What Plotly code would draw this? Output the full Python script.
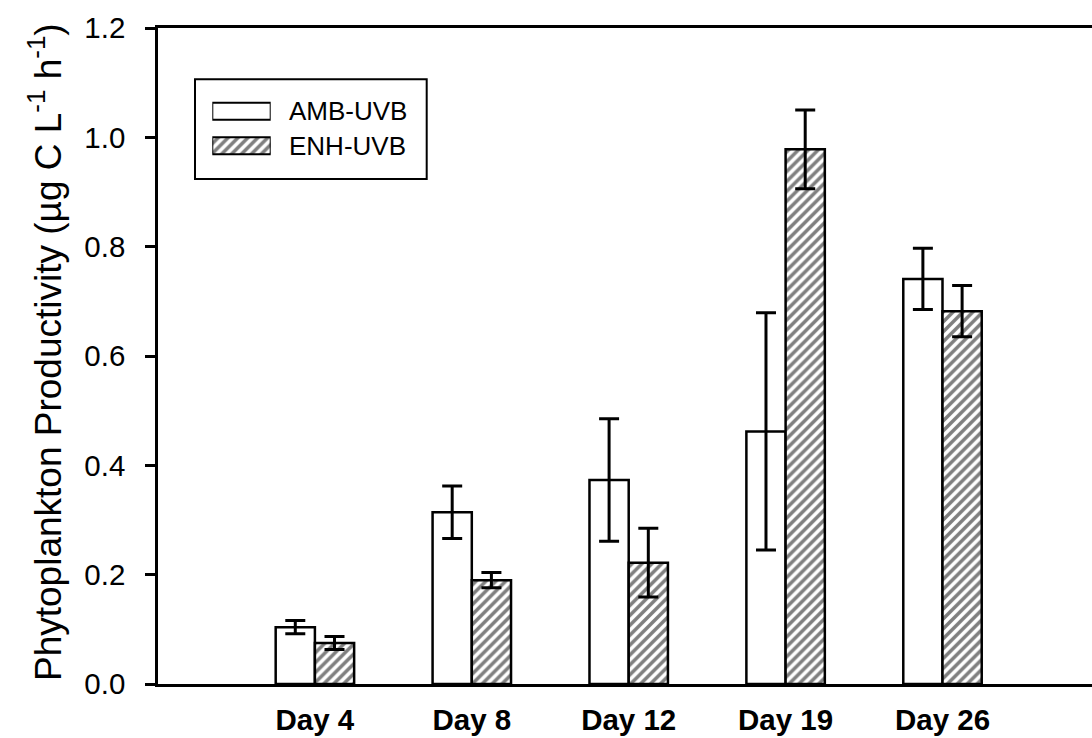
import plotly.graph_objects as go

# Sampling days and treatments
days = ["Day 4", "Day 8", "Day 12", "Day 19", "Day 26"]
series_names = ["AMB-UVB", "ENH-UVB"]

# Mean productivity (µg C L-1 h-1) and standard errors
amb_values = [0.104, 0.314, 0.373, 0.462, 0.741]
amb_errors = [0.012, 0.048, 0.112, 0.217, 0.056]
enh_values = [0.075, 0.190, 0.222, 0.978, 0.682]
enh_errors = [0.012, 0.014, 0.063, 0.072, 0.047]

y_ticks = [0.0, 0.2, 0.4, 0.6, 0.8, 1.0, 1.2]

FONT = "Arial, Liberation Sans, Helvetica, sans-serif"
W, H = 1092, 738
LEFT, TOP, BOTTOM = 158, 28, 54
plot_w = W - LEFT
plot_h = H - TOP - BOTTOM
slot_px = 156.9

positions = list(range(1, len(days) + 1))

hatch = dict(shape="/", fgcolor="black", bgcolor="white", size=7, solidity=0.5)
err_style = dict(type="data", visible=True, color="black", thickness=3, width=10)

fig = go.Figure()
fig.add_trace(go.Bar(
    x=positions, y=amb_values, name=series_names[0],
    marker=dict(color="white", line=dict(color="black", width=2.5)),
    error_y=dict(array=amb_errors, **err_style),
    showlegend=False,
))
fig.add_trace(go.Bar(
    x=positions, y=enh_values, name=series_names[1],
    marker=dict(color="white", line=dict(color="black", width=2.5), pattern=hatch),
    error_y=dict(array=enh_errors, **err_style),
    showlegend=False,
))

# Key swatches drawn as bars on a small inset axis
def px_x(p):
    return (p - LEFT) / plot_w

def px_y(p):
    return (H - BOTTOM - p) / plot_h

fig.add_trace(go.Bar(
    x=[1], y=[0], orientation="h", xaxis="x2", yaxis="y2", width=0.49,
    marker=dict(color="white", line=dict(color="black", width=2)),
    showlegend=False, hoverinfo="skip",
))
fig.add_trace(go.Bar(
    x=[1], y=[1], orientation="h", xaxis="x2", yaxis="y2", width=0.49,
    marker=dict(color="white", line=dict(color="black", width=2), pattern=hatch),
    showlegend=False, hoverinfo="skip",
))

fig.update_layout(
    width=W, height=H,
    margin=dict(l=LEFT, r=0, t=TOP, b=BOTTOM),
    paper_bgcolor="white", plot_bgcolor="white",
    barmode="group", bargap=0.5, bargroupgap=0,
    font=dict(family=FONT, color="black"),
    xaxis=dict(
        range=[0, plot_w / slot_px],
        tickvals=positions, ticktext=days,
        tickfont=dict(size=29.5, family=FONT, weight="bold"),
        showgrid=False, zeroline=False,
        showline=True, linecolor="black", linewidth=2.5, mirror=True,
        ticks="", ticklabelstandoff=8,
    ),
    yaxis=dict(
        range=[0, 1.2], tickvals=y_ticks,
        ticktext=[f"{v:.1f}" for v in y_ticks],
        tickfont=dict(size=29.5),
        showgrid=False, zeroline=False,
        showline=True, linecolor="black", linewidth=2.5, mirror=False,
        ticks="outside", ticklen=10, tickwidth=2.5, tickcolor="black",
        ticklabelstandoff=14,
    ),
    xaxis2=dict(
        domain=[px_x(212.3), px_x(270.7)], range=[0, 1],
        anchor="y2", visible=False, fixedrange=True,
    ),
    yaxis2=dict(
        domain=[px_y(162.9), px_y(94.1)], range=[1.5, -0.5],
        anchor="x2", visible=False, fixedrange=True,
    ),
    shapes=[dict(
        type="rect", xref="paper", yref="paper",
        x0=px_x(195), x1=px_x(426.7), y0=px_y(179), y1=px_y(79.3),
        line=dict(color="black", width=2), fillcolor="rgba(0,0,0,0)",
    )],
    annotations=[
        dict(text=series_names[0], xref="paper", yref="paper",
             x=px_x(287.3), y=px_y(111.3), xanchor="left", yanchor="middle",
             showarrow=False, font=dict(size=26)),
        dict(text=series_names[1], xref="paper", yref="paper",
             x=px_x(287.3), y=px_y(145.7), xanchor="left", yanchor="middle",
             showarrow=False, font=dict(size=26)),
        dict(text="Phytoplankton Productivity (µg C L<sup>-1</sup> h<sup>-1</sup>)",
             xref="paper", yref="paper", x=px_x(45), y=px_y(352),
             xanchor="center", yanchor="middle", textangle=-90,
             showarrow=False, font=dict(size=37)),
    ],
)

fig.write_html("out.html")
